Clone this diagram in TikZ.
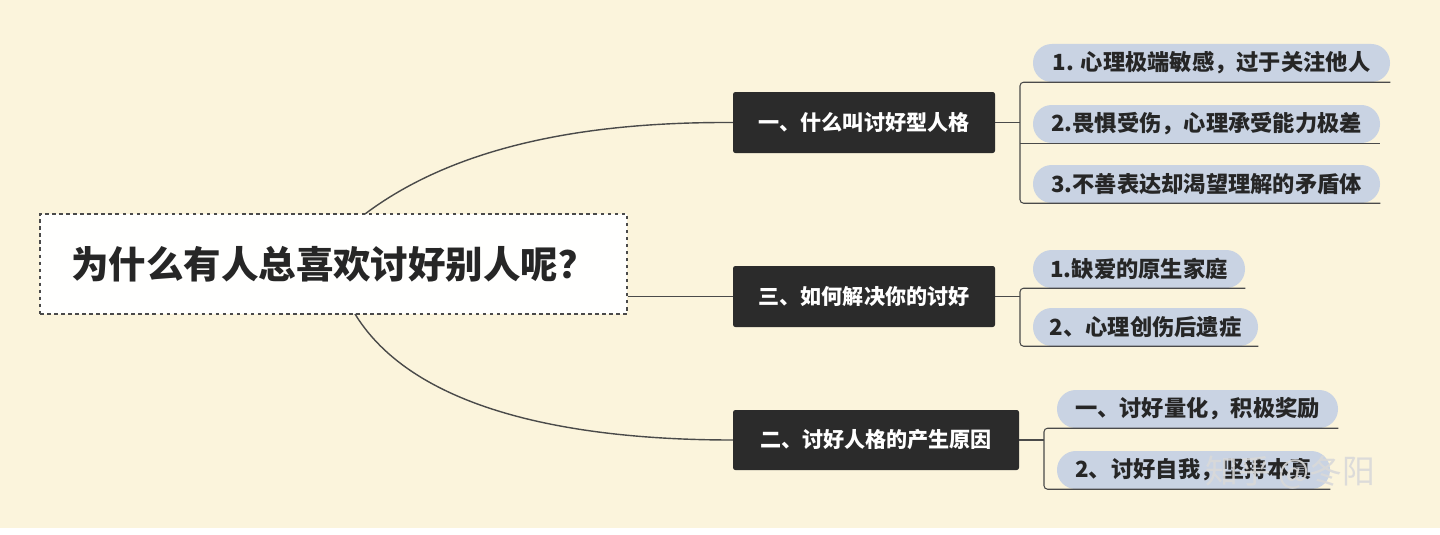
\documentclass[tikz,border=0pt]{standalone}
\usepackage{fontspec}
\setmainfont{Noto Sans CJK SC}
\definecolor{bgcream}{HTML}{FBF4DC}
\definecolor{branchfill}{HTML}{2B2B2B}
\definecolor{leaffill}{HTML}{C9D3E3}
\definecolor{linegray}{HTML}{4A4A4A}
\tikzset{
  rootbox/.style={draw=linegray,dashed,line width=1.2pt,fill=white!96!bgcream,font=\fontsize{32}{34}\selectfont\bfseries,text=black!85},
  branchbox/.style={fill=branchfill,rounded corners=2pt,text=white,font=\fontsize{18}{20}\selectfont\bfseries},
  leafbox/.style={fill=leaffill,rounded corners=16pt,text=black!85,font=\fontsize{19}{21}\selectfont\bfseries},
  link/.style={draw=linegray,line width=1.2pt}
}
\begin{document}
\begin{tikzpicture}[x=0.03cm,y=-0.03cm]
\fill[bgcream] (0,0) rectangle (1440,528);
\fill[white] (0,528) rectangle (1440,534);
\useasboundingbox (0,0) rectangle (1440,534);

% root
\node[rootbox,minimum width=587*0.03cm,minimum height=100*0.03cm] (root) at (333.5,264) {为什么有人总喜欢讨好别人呢？};

% branches
\node[branchbox,minimum width=262*0.03cm,minimum height=61*0.03cm] (what) at (864,122.5) {一、什么叫讨好型人格};
\node[branchbox,minimum width=262*0.03cm,minimum height=61*0.03cm] (how) at (864,296.5) {三、如何解决你的讨好};
\node[branchbox,minimum width=286*0.03cm,minimum height=60*0.03cm] (why) at (876,440) {二、讨好人格的产生原因};

\draw[link] (365,214) .. controls (470,135) and (620,122) .. (what.west);
\draw[link] (root.east |- how) -- (how.west);
\draw[link] (355,314) .. controls (420,420) and (600,440) .. (why.west);

% leaves
\node[leafbox,minimum width=357*0.03cm,minimum height=38*0.03cm] (w1) at (1211.5,63) {1. 心理极端敏感，过于关注他人};
\node[leafbox,minimum width=347*0.03cm,minimum height=38*0.03cm] (w2) at (1206.5,124) {2.畏惧受伤，心理承受能力极差};
\node[leafbox,minimum width=347*0.03cm,minimum height=38*0.03cm] (w3) at (1206.5,184) {3.不善表达却渴望理解的矛盾体};
\node[leafbox,minimum width=212*0.03cm,minimum height=38*0.03cm] (h1) at (1139,269) {1.缺爱的原生家庭};
\node[leafbox,minimum width=225*0.03cm,minimum height=38*0.03cm] (h2) at (1145.5,327) {2、心理创伤后遗症};
\node[leafbox,minimum width=281*0.03cm,minimum height=38*0.03cm] (y1) at (1197.5,409) {一、讨好量化，积极奖励};
\node[leafbox,minimum width=273*0.03cm,minimum height=38*0.03cm] (y2) at (1193.5,470) {2、讨好自我，坚持本真};

% brackets
\coordinate (wb) at (1020,122.5);
\coordinate (hb) at (1020,296.5);
\coordinate (yb) at (1044,440);
\draw[link,line width=0.9pt] (what.east) -- (wb);
\draw[link,line width=0.9pt] (how.east) -- (hb);
\draw[link,line width=0.9pt] (why.east) -- (yb);
\draw[link,line width=0.9pt,rounded corners=3pt] (w1.south east) -- (wb |- w1.south) -- (wb |- w3.south) -- (w3.south east);
\draw[link,line width=0.9pt] (wb |- w2.south) -- (w2.south east);
\draw[link,line width=0.9pt,rounded corners=3pt] (h1.south east) -- (hb |- h1.south) -- (hb |- h2.south) -- (h2.south east);
\draw[link,line width=0.9pt,rounded corners=3pt] (y1.south east) -- (yb |- y1.south) -- (yb |- y2.south) -- (y2.south east);

% watermark
\node[text=white!70!gray,opacity=0.9,font=\fontsize{28}{30}\selectfont] (mark) at (1290,473) {知乎 @冬阳};
\end{tikzpicture}
\end{document}
